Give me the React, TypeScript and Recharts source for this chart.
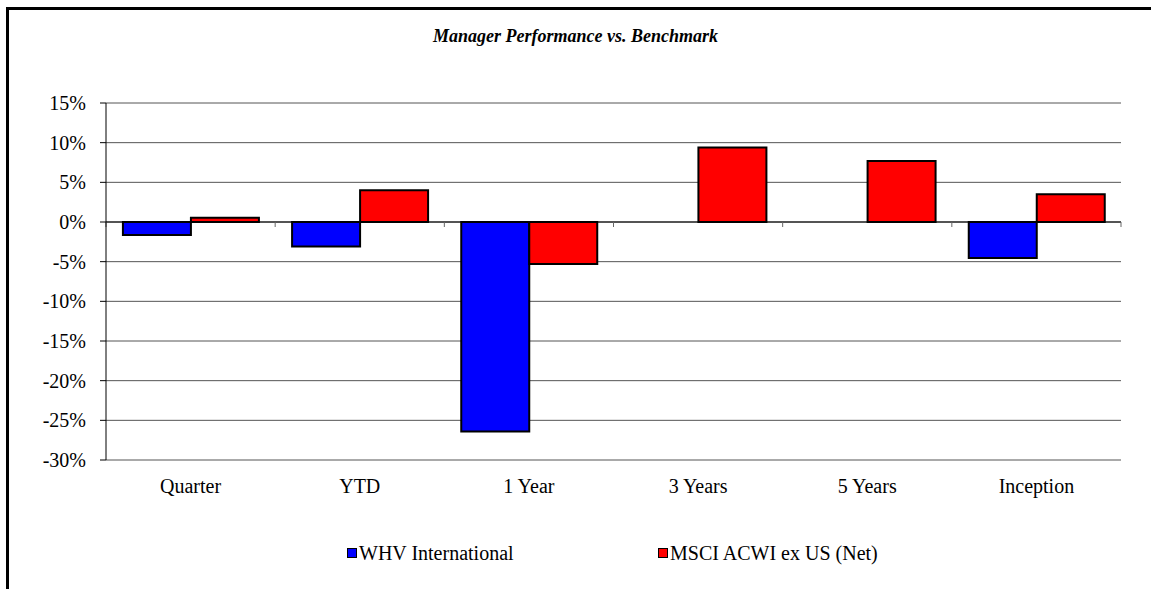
import React from 'react';
import { BarChart, Bar, XAxis, YAxis, CartesianGrid, ReferenceLine, Legend } from 'recharts';

const categories = ['Quarter', 'YTD', '1 Year', '3 Years', '5 Years', 'Inception'];
const managerReturns: (number | null)[] = [-1.65, -3.1, -26.4, null, null, -4.55];
const benchmarkReturns: (number | null)[] = [0.55, 4.0, -5.3, 9.4, 7.7, 3.5];
const yTicks = [-30, -25, -20, -15, -10, -5, 0, 5, 10, 15];
const seriesNames = ['WHV International', 'MSCI ACWI ex US (Net)'];
const seriesColors = ['#0000FF', '#FF0000'];
const chartTitle = 'Manager Performance vs. Benchmark';

const data = categories.map((c, i) => ({
  category: c,
  manager: managerReturns[i],
  benchmark: benchmarkReturns[i],
}));

const FONT = '"Liberation Serif", "Times New Roman", serif';

const ZeroAxis = (props: any) => {
  const { x1, x2, y1 } = props;
  const n = categories.length;
  const step = (x2 - x1) / n;
  return (
    <g>
      <line x1={x1} x2={x2} y1={y1} y2={y1} stroke="#000" strokeWidth={1.2} />
      {Array.from({ length: n + 1 }, (_, i) => (
        <line
          key={i}
          x1={x1 + i * step}
          x2={x1 + i * step}
          y1={y1}
          y2={y1 + 5}
          stroke="#666"
          strokeWidth={1}
        />
      ))}
    </g>
  );
};

const LegendContent = (props: any) => {
  const payload = [...(props.payload || [])].sort(
    (a: any, b: any) => seriesNames.indexOf(a.value) - seriesNames.indexOf(b.value)
  );
  return (
    <div
      style={{
        height: 0,
        overflow: 'visible',
        display: 'flex',
        paddingLeft: 347,
        fontFamily: FONT,
        fontSize: 20,
        lineHeight: '20px',
        color: '#000',
      }}
    >
      {payload.map((p: any, i: number) => (
        <div
          key={i}
          style={{ display: 'flex', alignItems: 'center', width: i === 0 ? 311 : 'auto', height: 20, whiteSpace: 'nowrap' }}
        >
          <span
            style={{
              display: 'inline-block',
              width: 8,
              height: 8,
              background: p.color,
              border: '1.5px solid #000',
              marginRight: 2,
            }}
          />
          <span>{p.value}</span>
        </div>
      ))}
    </div>
  );
};

export default function App() {
  return (
    <div
      style={{
        position: 'fixed',
        left: 0,
        top: 0,
        width: 1151,
        height: 589,
        background: '#fff',
        overflow: 'hidden',
        fontFamily: FONT,
      }}
    >
      <div
        style={{
          position: 'absolute',
          left: 6,
          top: 7,
          width: 1300,
          height: 700,
          borderTop: '3px solid #000',
          borderLeft: '3px solid #000',
        }}
      />
      <div
        style={{
          position: 'absolute',
          left: 0,
          top: 26,
          width: 1151,
          textAlign: 'center',
          fontSize: 18,
          lineHeight: '20px',
          fontWeight: 'bold',
          fontStyle: 'italic',
          color: '#000',
        }}
      >
        {chartTitle}
      </div>
      <div style={{ position: 'absolute', left: 0, top: 0 }}>
        <BarChart
          width={1151}
          height={589}
          data={data}
          margin={{ top: 103, right: 30, bottom: 99, left: 0 }}
          barCategoryGap="10%"
          barGap={0}
        >
          <CartesianGrid vertical={false} stroke="#555" strokeWidth={1} />
          <XAxis
            dataKey="category"
            axisLine={false}
            tickLine={false}
            height={30}
            tickMargin={13}
            interval={0}
            tick={{ fill: '#000', fontSize: 20, fontFamily: FONT }}
          />
          <YAxis
            width={106}
            domain={[-30, 15]}
            ticks={yTicks}
            interval={0}
            tickFormatter={(v: number) => `${v}%`}
            axisLine={{ stroke: '#000' }}
            tickLine={{ stroke: '#000' }}
            tickSize={6}
            tickMargin={14}
            tick={{ fill: '#000', fontSize: 20, fontFamily: FONT }}
          />
          <Legend
            content={<LegendContent />}
            wrapperStyle={{ top: 543, left: 0, width: 1151, height: 0 }}
          />
          <Bar
            dataKey="manager"
            name={seriesNames[0]}
            fill={seriesColors[0]}
            stroke="#000"
            strokeWidth={2}
            isAnimationActive={false}
          />
          <Bar
            dataKey="benchmark"
            name={seriesNames[1]}
            fill={seriesColors[1]}
            stroke="#000"
            strokeWidth={2}
            isAnimationActive={false}
          />
          <ReferenceLine y={0} shape={ZeroAxis} />
        </BarChart>
      </div>
    </div>
  );
}
